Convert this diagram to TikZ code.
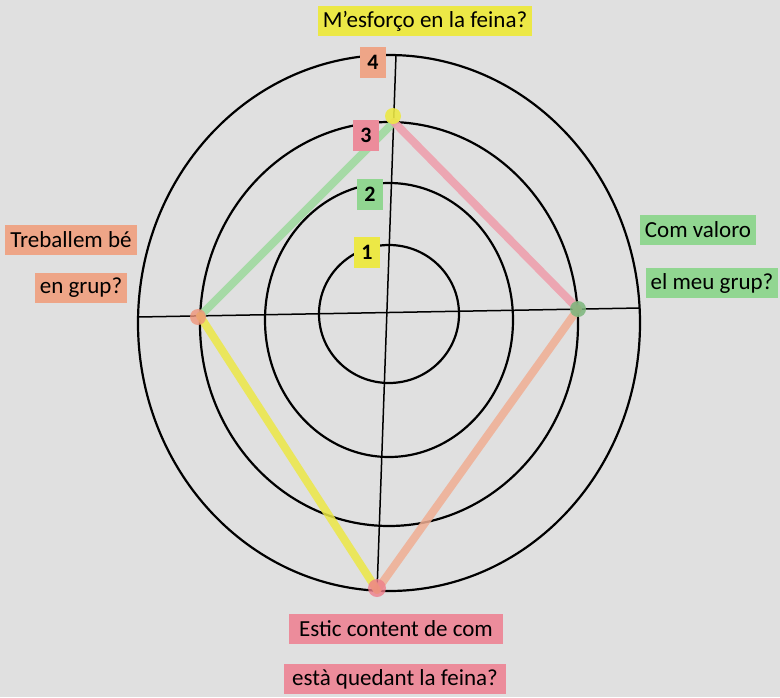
\documentclass[tikz,border=0pt]{standalone}
\usepackage{fontspec}
\setmainfont{Carlito}
\usepackage{tikz}
\usetikzlibrary{calc}

\definecolor{paper}{RGB}{224,224,224}
\definecolor{hlyellow}{RGB}{236,232,70}
\definecolor{hlorange}{RGB}{238,165,135}
\definecolor{hlgreen}{RGB}{145,214,145}
\definecolor{hlpink}{RGB}{236,140,155}

\tikzset{
    question/.style={fill=#1, inner xsep=5pt, inner ysep=0pt, minimum height=30pt,
        font=\fontsize{23}{26}\selectfont},
    level/.style={fill=#1, inner sep=0pt, minimum width=26pt, minimum height=31pt,
        font=\fontsize{22}{24}\selectfont\bfseries},
    ring/.style={line width=2.2pt},
    axis/.style={line width=1.5pt},
    marker/.style={line width=8pt, draw opacity=0.85, line cap=round}
}

\begin{document}
\begin{tikzpicture}[x=1pt,y=-1pt]
    \useasboundingbox (0,0) rectangle (780,697);
    \fill[paper] (0,0) rectangle (780,697);

    % rings
    \draw[ring] (389,314) ellipse [x radius=70pt, y radius=69pt];
    \draw[ring] (389,320) ellipse [x radius=124pt, y radius=137pt];
    \draw[ring] (389,324) ellipse [x radius=189pt, y radius=202pt];
    \draw[ring] (389,323) ellipse [x radius=251pt, y radius=268pt];

    % axes
    \coordinate (top) at (396,55);
    \coordinate (bottom) at (377,592);
    \coordinate (left) at (138,317);
    \coordinate (right) at (640,308);
    \draw[axis] (top) -- (bottom);
    \draw[axis] (left) -- (right);

    % answers
    \coordinate (esforc) at (394,122);
    \coordinate (valoro) at (578,309);
    \coordinate (content) at (377,590);
    \coordinate (grup) at (200,316);

    \draw[marker, hlgreen!90!white] (grup) -- (esforc);
    \draw[marker, hlpink!85!white] (esforc) -- (valoro);
    \draw[marker, hlorange!90!white] (valoro) -- (content);
    \draw[marker, hlyellow] (grup) -- (content);

    \fill[hlyellow, opacity=0.9] (393,116) circle (8pt);
    \fill[hlgreen!85!black, opacity=0.85] (578,309) circle (8pt);
    \fill[hlorange!90!red, opacity=0.8] (198,317) circle (8pt);
    \fill[hlpink!90!red, opacity=0.8] (377,588) circle (9pt);

    % levels
    \node[level=hlorange] (l4) at (373,62) {4};
    \node[level=hlpink] (l3) at (366,135) {3};
    \node[level=hlgreen] (l2) at (370,194) {2};
    \node[level=hlyellow] (l1) at (367,252) {1};

    % questions
    \node[question=hlyellow] (q1) at (425,21) {M’esforço en la feina?};
    \node[question=hlgreen] (q2a) at (698,230) {Com valoro};
    \node[question=hlgreen] (q2b) at (712,283) {el meu grup?};
    \node[question=hlpink, inner xsep=10pt] (q3a) at (396,629) {Estic content de com};
    \node[question=hlpink, inner xsep=8pt] (q3b) at (395,679) {està quedant la feina?};
    \node[question=hlorange] (q4a) at (71,240) {Treballem bé};
    \node[question=hlorange] (q4b) at (81,288) {en grup?};
\end{tikzpicture}
\end{document}
